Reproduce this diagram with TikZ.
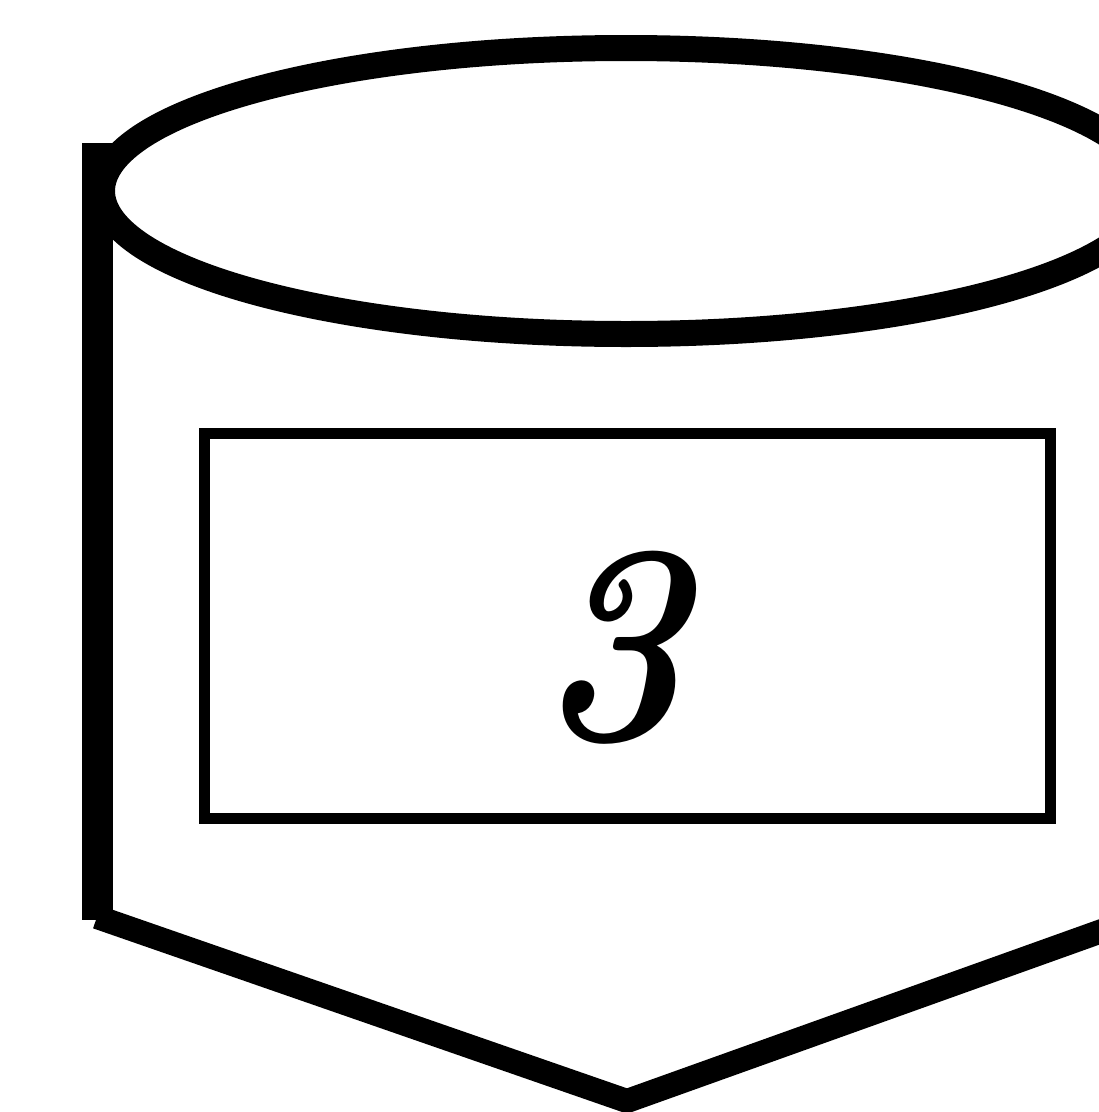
\documentclass[tikz,border=0pt]{standalone}
\begin{document}
\begin{tikzpicture}[x=1pt,y=-1pt,
  heavy/.style={line width=#1, draw=black},
  numlabel/.style={font=\fontsize{285}{300}\selectfont\itshape\bfseries, inner sep=0pt, anchor=base}]
\clip (0,0) rectangle (1099,1112);
\useasboundingbox (0,0) rectangle (1099,1112);
\fill[white] (0,0) rectangle (1099,1112);
% top ellipse
\draw[heavy=26pt] (626,191) ellipse [x radius=524, y radius=143];
% left side
\coordinate (topL) at (97,143);
\coordinate (botL) at (97,920);
\draw[heavy=31pt, line cap=butt] (topL) -- (botL);
% bottom point
\coordinate (startV) at (97,917);
\coordinate (tip) at (627,1101);
\coordinate (endV) at (1180,903);
\draw[heavy=24pt, line join=miter] (startV) -- (tip) -- (endV);
% label box
\node[draw=black, line width=11pt, minimum width=846pt, minimum height=385pt, inner sep=0pt] (box) at (627,625.5) {};
\node[numlabel] (num) at (611,739) {\scalebox{0.9}[1]{3}};
\end{tikzpicture}
\end{document}
